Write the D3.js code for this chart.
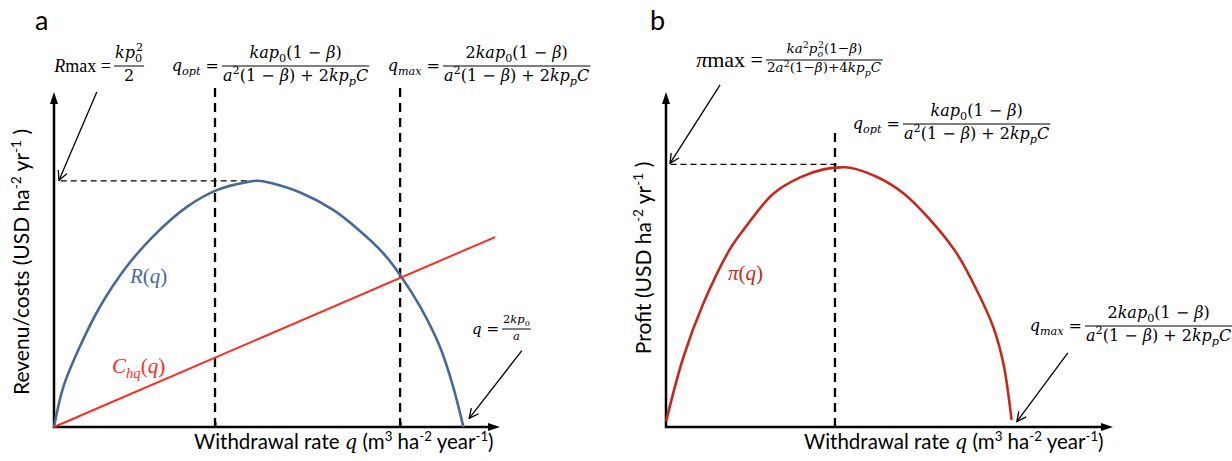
<!DOCTYPE html>
<html><head><meta charset="utf-8">
<script src="https://cdn.jsdelivr.net/npm/d3@7"></script>
<style>body{margin:0;background:#fff}</style>
</head><body><svg id="c" width="1232" height="461"></svg>
<script>
// ---------- data (abstract units) ----------
const qA = [0,2.1,5.8,10.3,16.3,22.3,29.8,36.5,43.2,45.8,48.4,55.2,62.6,68.6,73.8,77.6,82.1,86.5,89.5,91.8];
const revenueA = [0,12.0,24.0,35.9,47.9,57.0,65.7,70.7,73.1,73.5,72.9,70.0,64.8,58.5,51.9,45.4,35.9,24.0,12.0,0];
const qCost = [0, 98.9];
const costA = [0, 56.7];
const qB = [0,3.9,8.3,14.3,17.3,24.0,30.0,35.2,39.0,41.2,47.1,53.1,59.8,65.0,69.5,73.2,75.5,77.3];
const profitB = [1.6,20.9,36.7,53.1,58.8,69.6,74.5,76.9,77.5,77.4,74.7,69.8,60.8,51.9,40.9,29.9,18.8,2.1];
const markersA = [36.1, 77.6];   // q_opt, q_max (panel a)
const markerTopA = 101.5;
const rMax = 73.5;
const markerB = 37.8, markerTopB = 88.1;
const piMax = 78.4;

const svg = d3.select('#c');
const MATH = "'DejaVu Serif', 'Liberation Serif', serif";
const TIMES = "'Liberation Serif', serif";
const SANS = "Lato, 'Open Sans', sans-serif";
const BLUE = '#46699a', RED = '#ff2a1a', DRED = '#c8281c';

const xA = d3.scaleLinear([0,100],[54,500]);
const yA = d3.scaleLinear([0,100],[427,92]);
const xB = d3.scaleLinear([0,100],[666,1113]);
const yB = d3.scaleLinear([0,100],[427,92]);

const defs = svg.append('defs');
defs.append('marker').attr('id','axArrow').attr('viewBox','0 0 12 8').attr('refX',6).attr('refY',4)
  .attr('markerWidth',12).attr('markerHeight',8).attr('markerUnits','userSpaceOnUse').attr('orient','auto')
  .append('path').attr('d','M0,0L12,4L0,8Z').attr('fill','#000');
defs.append('marker').attr('id','anArrow').attr('viewBox','0 0 10 10').attr('refX',9).attr('refY',5)
  .attr('markerWidth',11).attr('markerHeight',11).attr('markerUnits','userSpaceOnUse').attr('orient','auto')
  .append('path').attr('d','M0.5,0.8L9,5L0.5,9.2').attr('fill','none').attr('stroke','#000').attr('stroke-width',1.2);

// ---------- math text helpers ----------
const I = t => ({t, i:true});
const Rm = t => ({t});
const Sb = (t, i=true) => ({t, s:'sub', i});
const Sp = (t, dx) => ({t, s:'sup', dx});
function mtext(g, x, y, parts, size, color='#000', anchor='start', family=MATH) {
  const t = g.append('text').attr('x', x).attr('y', y).attr('font-family', family)
    .attr('font-size', size).attr('fill', color).attr('text-anchor', anchor);
  let cur = 0;
  parts.forEach(p => {
    const fs = p.s ? size*0.7 : size;
    const d = p.s === 'sub' ? size*0.25 : p.s === 'sup' ? -size*0.42 : 0;
    const ts = t.append('tspan').text(p.t).attr('font-size', fs)
      .attr('font-style', p.i ? 'italic' : 'normal').attr('dy', d - cur);
    if (p.dx) ts.attr('dx', p.dx*size);
    cur = d;
  });
  return t;
}
function centerAt(t, cx) {
  const b = t.node().getBBox();
  t.attr('x', +t.attr('x') + cx - (b.x + b.width/2));
}
function fraction(g, x, lineY, num, den, size) {
  const n = mtext(g, 0, lineY - size*0.5, num, size);
  const d = mtext(g, 0, lineY + size*0.92, den, size);
  const w = Math.max(n.node().getBBox().width, d.node().getBBox().width) + 2;
  g.append('line').attr('x1', x).attr('x2', x + w).attr('y1', lineY).attr('y2', lineY)
    .attr('stroke', '#000').attr('stroke-width', Math.max(1, size/16));
  centerAt(n, x + w/2); centerAt(d, x + w/2);
}
function lhs(g, fracX, lineY, parts, size, family=MATH) {
  mtext(g, fracX - 3, lineY + size*0.33, parts.concat([Rm(' =')]), size, '#000', 'end', family);
}
function sansLabel(g, x, y, parts, size, rotate) {
  const t = g.append('text').attr('font-family', SANS).attr('font-size', size).attr('fill', '#000');
  if (rotate) t.attr('transform', `translate(${x},${y}) rotate(-90)`).attr('text-anchor','middle');
  else t.attr('x', x).attr('y', y);
  let cur = 0;
  parts.forEach(p => {
    const d = p.s === 'sup' ? -size*0.38 : 0;
    const ts = t.append('tspan').text(p.t).attr('dy', d - cur).attr('font-size', p.s ? size*0.65 : size);
    if (p.m) ts.attr('font-family', MATH).attr('font-style','italic').attr('font-size', size*0.95);
    cur = d;
  });
  return t;
}

const numOpt = [I('kap'), Sb('0', false), Rm('(1 − '), I('β'), Rm(')')];
const numMax = [Rm('2'), I('kap'), Sb('0', false), Rm('(1 − '), I('β'), Rm(')')];
const denQ = [I('a'), Sp('2'), Rm('(1 − '), I('β'), Rm(') + 2'), I('kp'), Sb('p'), I('C')];
const xLabel = [{t:'Withdrawal rate '},{t:'q',m:true},{t:' (m'},{t:'3',s:'sup'},{t:' ha'},{t:'-2',s:'sup'},{t:' year'},{t:'-1',s:'sup'},{t:')'}];

function axesArrows(g, x, y) {
  g.append('line').attr('x1', x(0)-1).attr('y1', y(0)).attr('x2', x(100)-6).attr('y2', y(0))
    .attr('stroke','#000').attr('stroke-width',2.5).attr('marker-end','url(#axArrow)');
  g.append('line').attr('x1', x(0)).attr('y1', y(0)+1).attr('x2', x(0)).attr('y2', y(100)+6)
    .attr('stroke','#000').attr('stroke-width',2.5).attr('marker-end','url(#axArrow)');
}
const smooth = d3.curveCatmullRom.alpha(0.5);

// ---------- panel a ----------
const ga = svg.append('g');
ga.append('text').attr('x', 35).attr('y', 30).attr('font-family', SANS).attr('font-size', 27).text('a');
axesArrows(ga, xA, yA);
const axA = ga.append('g').attr('transform', `translate(0,${yA(0)})`)
  .call(d3.axisBottom(xA).tickValues(markersA).tickSizeInner(-5).tickSizeOuter(0).tickFormat(''));
axA.select('.domain').remove();
axA.selectAll('.tick line').attr('stroke-width', 2);

ga.selectAll('line.vd').data(markersA).join('line').attr('class','vd')
  .attr('x1', d => xA(d)).attr('x2', d => xA(d)).attr('y1', yA(0)).attr('y2', yA(markerTopA))
  .attr('stroke','#000').attr('stroke-width',2.3).attr('stroke-dasharray','9,6');
ga.append('line').attr('x1', xA(1.5)).attr('x2', xA(46)).attr('y1', yA(rMax)).attr('y2', yA(rMax))
  .attr('stroke','#000').attr('stroke-width',1.2).attr('stroke-dasharray','6,4');

ga.append('path').datum(qA.map((q,i)=>[q, revenueA[i]]))
  .attr('d', d3.line().x(d=>xA(d[0])).y(d=>yA(d[1])).curve(smooth))
  .attr('fill','none').attr('stroke', BLUE).attr('stroke-width', 2.6);
ga.append('path').datum(qCost.map((q,i)=>[q, costA[i]]))
  .attr('d', d3.line().x(d=>xA(d[0])).y(d=>yA(d[1])))
  .attr('fill','none').attr('stroke', RED).attr('stroke-width', 2);

ga.append('line').attr('x1', xA(9.6)).attr('y1', yA(100)).attr('x2', xA(1.1)).attr('y2', yA(73.6))
  .attr('stroke','#000').attr('stroke-width',1.3).attr('marker-end','url(#anArrow)');
ga.append('line').attr('x1', xA(104.9)).attr('y1', yA(22.8)).attr('x2', xA(93.1)).attr('y2', yA(2.6))
  .attr('stroke','#000').attr('stroke-width',1.3).attr('marker-end','url(#anArrow)');

mtext(ga, 130, 283, [I('R'), Rm('('), I('q'), Rm(')')], 21, BLUE, 'start', TIMES);
mtext(ga, 112, 373, [I('C'), Sb('hq'), Rm('('), I('q'), Rm(')')], 21, RED, 'start', TIMES);

{
  const g = ga.append('g');
  lhs(g, 114, 66, [I('R'), Rm('max')], 18, TIMES);
  fraction(g, 114, 66, [I('kp'), Sb('0', false), Sp('2', -0.38)], [Rm('2')], 16);
  lhs(g, 222, 66, [I('q'), Sb('opt')], 16);
  fraction(g, 222, 66, numOpt, denQ, 16);
  lhs(g, 443, 66, [I('q'), Sb('max')], 16);
  fraction(g, 443, 66, numMax, denQ, 16);
  lhs(g, 502, 329, [I('q')], 15);
  fraction(g, 502, 329, [Rm('2'), I('kp'), Sb('0', false)], [I('a')], 11.5);
}
sansLabel(ga, 194, 449, xLabel, 20.5);
sansLabel(ga, 29, 262, [{t:'Revenu/costs (USD ha'},{t:'-2',s:'sup'},{t:' yr'},{t:'-1',s:'sup'},{t:' )'}], 21, true);

// ---------- panel b ----------
const gb = svg.append('g');
gb.append('text').attr('x', 650).attr('y', 30).attr('font-family', SANS).attr('font-size', 27).text('b');
axesArrows(gb, xB, yB);

gb.append('line').attr('x1', xB(markerB)).attr('x2', xB(markerB)).attr('y1', yB(0)).attr('y2', yB(markerTopB))
  .attr('stroke','#000').attr('stroke-width',2.3).attr('stroke-dasharray','9,6');
gb.append('line').attr('x1', xB(1)).attr('x2', xB(38.5)).attr('y1', yB(piMax)).attr('y2', yB(piMax))
  .attr('stroke','#000').attr('stroke-width',1.2).attr('stroke-dasharray','6,4');

gb.append('path').datum(qB.map((q,i)=>[q, profitB[i]]))
  .attr('d', d3.line().x(d=>xB(d[0])).y(d=>yB(d[1])).curve(smooth))
  .attr('fill','none').attr('stroke', DRED).attr('stroke-width', 2.6);

gb.append('line').attr('x1', xB(12.1)).attr('y1', yB(102.1)).attr('x2', xB(0.9)).attr('y2', yB(78.7))
  .attr('stroke','#000').attr('stroke-width',1.3).attr('marker-end','url(#anArrow)');
gb.append('line').attr('x1', xB(89.9)).attr('y1', yB(22.1)).attr('x2', xB(78.5)).attr('y2', yB(1.6))
  .attr('stroke','#000').attr('stroke-width',1.3).attr('marker-end','url(#anArrow)');

mtext(gb, 728, 280, [I('π'), Rm('('), I('q'), Rm(')')], 21, DRED, 'start', TIMES);

{
  const g = gb.append('g');
  lhs(g, 766, 60, [I('π'), Rm('max')], 22, TIMES);
  fraction(g, 766, 60,
    [I('ka'), Sp('2'), I('p'), Sb('o'), Sp('2', -0.38), Rm('(1−'), I('β'), Rm(')')],
    [Rm('2'), I('a'), Sp('2'), Rm('(1−'), I('β'), Rm(')+4'), I('kp'), Sb('p'), I('C')], 13.5);
  lhs(g, 903, 124, [I('q'), Sb('opt')], 16);
  fraction(g, 903, 124, numOpt, denQ, 16);
  lhs(g, 1085, 326, [I('q'), Sb('max')], 16);
  fraction(g, 1085, 326, numMax, denQ, 16);
}
sansLabel(gb, 804, 449, xLabel, 20.5);
sansLabel(gb, 651, 258, [{t:'Profit (USD ha'},{t:'-2',s:'sup'},{t:' yr'},{t:'-1',s:'sup'},{t:' )'}], 21, true);
</script></body></html>
